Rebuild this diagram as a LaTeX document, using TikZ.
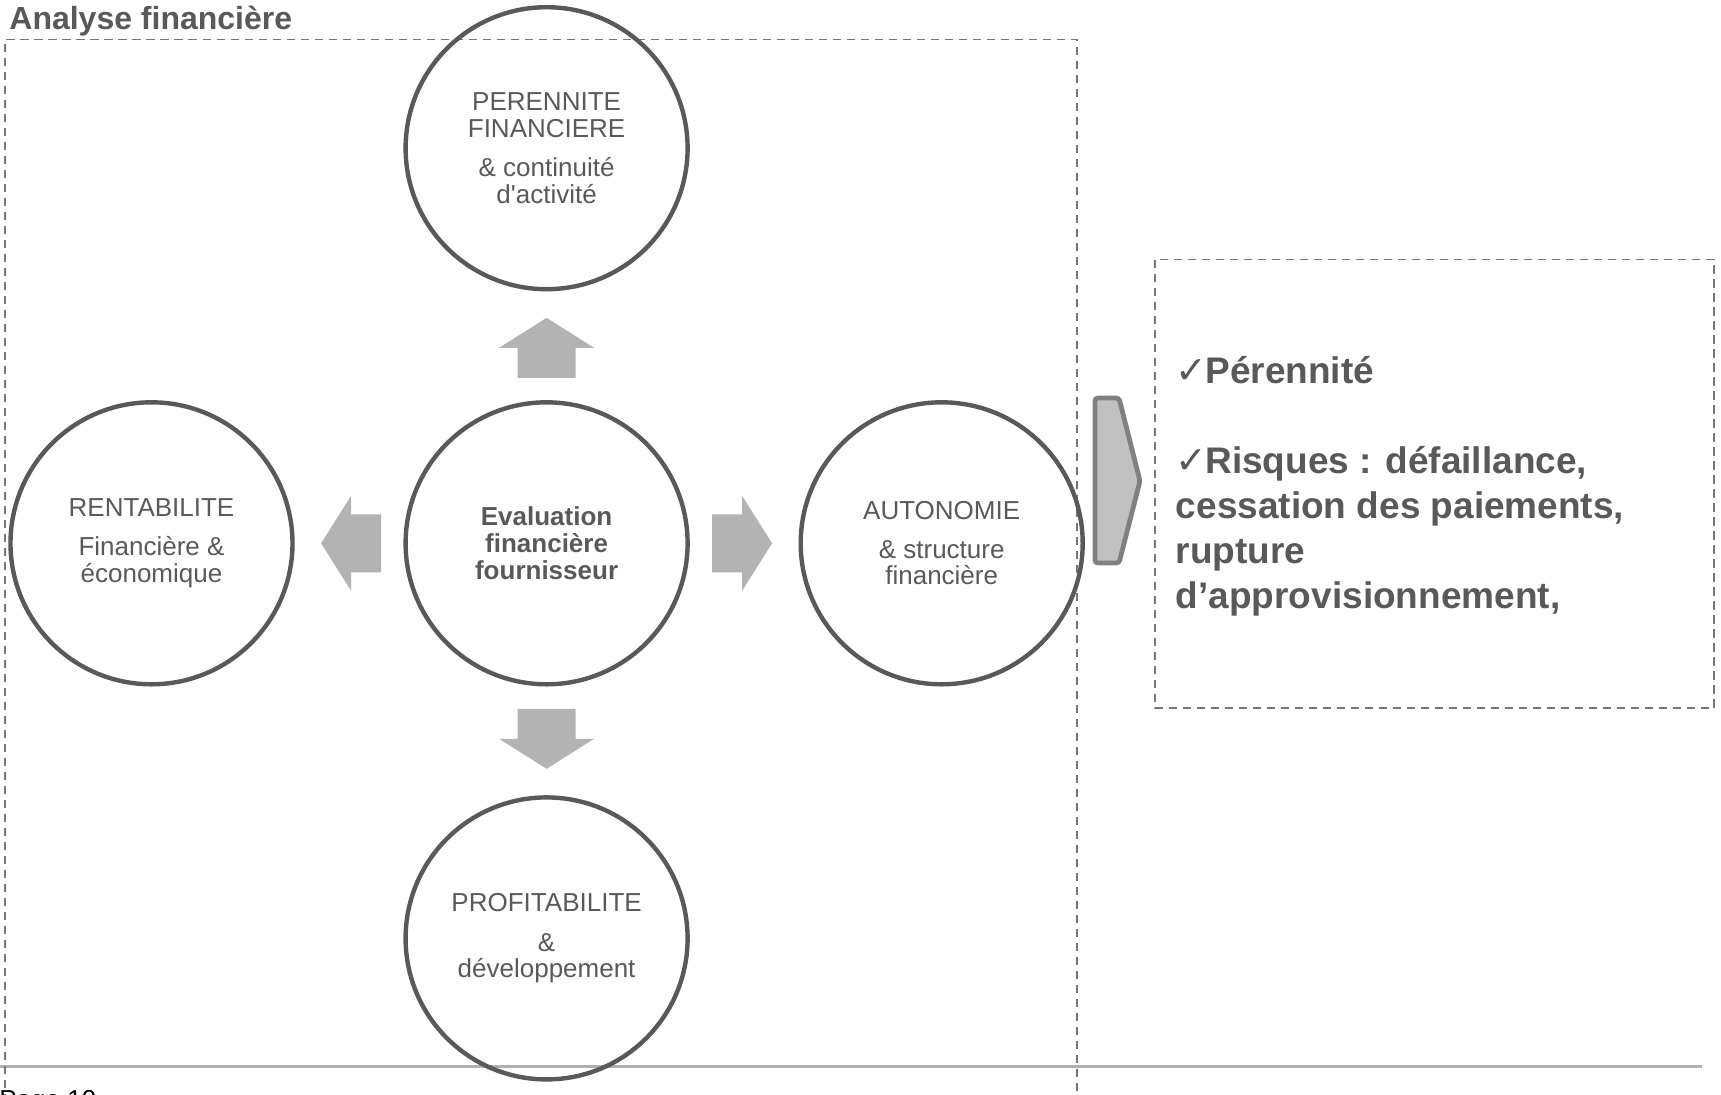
\documentclass[tikz,border=0pt]{standalone}
\usepackage{fontspec}
\setmainfont{Liberation Sans}
\newfontfamily\symfont{DejaVu Sans}
\usetikzlibrary{calc}
\definecolor{ink}{HTML}{595959}
\definecolor{ringc}{HTML}{595959}
\definecolor{arrowc}{HTML}{B3B3B3}
\definecolor{framec}{HTML}{767676}
\definecolor{rulec}{HTML}{B0B0B0}
\definecolor{chevfill}{HTML}{C0C0C0}
\definecolor{chevline}{HTML}{808080}
\newcommand\chk{\makebox[14.75pt][l]{\mdseries\symfont\fontsize{19}{19}\selectfont ✓}}

\begin{document}
\begin{tikzpicture}[x=0.5pt,y=-0.5pt,
  ring/.style={circle, draw=ringc, line width=2.2pt, minimum size=141pt,
    inner sep=0pt, align=center, text=ink, font=\fontsize{13}{13.3}\selectfont},
  frame/.style={draw=framec, line width=0.75pt, dash pattern=on 4.2pt off 2.8pt},
  blockarrow/.style={fill=arrowc, draw=none},
]
\useasboundingbox (0,0) rectangle (1721,1094);

% page rule and page number
\draw[rulec, line width=1.25pt] (0,1066.7) -- (1702,1066.7);
\node[anchor=base west, inner sep=0pt, font=\fontsize{13}{13}\selectfont] (pg) at (-1,1108) {Page 10};

% dashed frames
\draw[frame] (5,1130) -- (5,39.5) -- (1077,39.5) -- (1077,1130);
\draw[frame] (1155,259.5) rectangle (1714,708);

% title
\node[anchor=base west, inner sep=0pt, text=ink,
  font=\bfseries\fontsize{16}{16}\selectfont] (title) at (9,29) {Analyse financière};

% circles
\node[ring, font=\bfseries\fontsize{13}{13.5}\selectfont] (ctr) at (546.6,543.3)
  {Evaluation\\financière\\fournisseur};
\node[ring] (top) at (546.6,148.2)
  {PERENNITE\\FINANCIERE\\[6.5pt]\& continuité\\d\textquotesingle activité};
\node[ring] (left) at (151.5,543.3)
  {RENTABILITE\\[6pt]Financière \&\\économique};
\node[ring] (right) at (941.7,543.3)
  {AUTONOMIE\\[6pt]\& structure\\financière};
\node[ring] (bottom) at (546.6,938.4)
  {PROFITABILITE\\[6.3pt]\&\\développement};

% block arrows around the centre circle
\begin{scope}[shift={(ctr.center)}]
  \foreach \a in {0,90,180,270}
    \fill[blockarrow, rotate=\a] (165.5,-29) -- (195.5,-29) -- (195.5,-47.5)
      -- (225.5,0) -- (195.5,47.5) -- (195.5,29) -- (165.5,29) -- cycle;
\end{scope}

% chevron
\draw[draw=chevline, fill=chevfill, line width=2.4pt, rounded corners=1.5pt]
  (1095,398) -- (1119,398) -- (1140,481) -- (1119,563) -- (1095,563) -- cycle;

% conclusions (the node's base is the baseline of its last line)
\node[anchor=base west, align=left, inner sep=0pt, text=ink,
  font=\bfseries\fontsize{18.5}{22.5}\selectfont] (risks) at (1175.5,608)
  {\chk Pérennité\\[22.5pt]\chk Risques : défaillance,\\cessation des paiements,\\rupture\\d’approvisionnement,};
\end{tikzpicture}
\end{document}
